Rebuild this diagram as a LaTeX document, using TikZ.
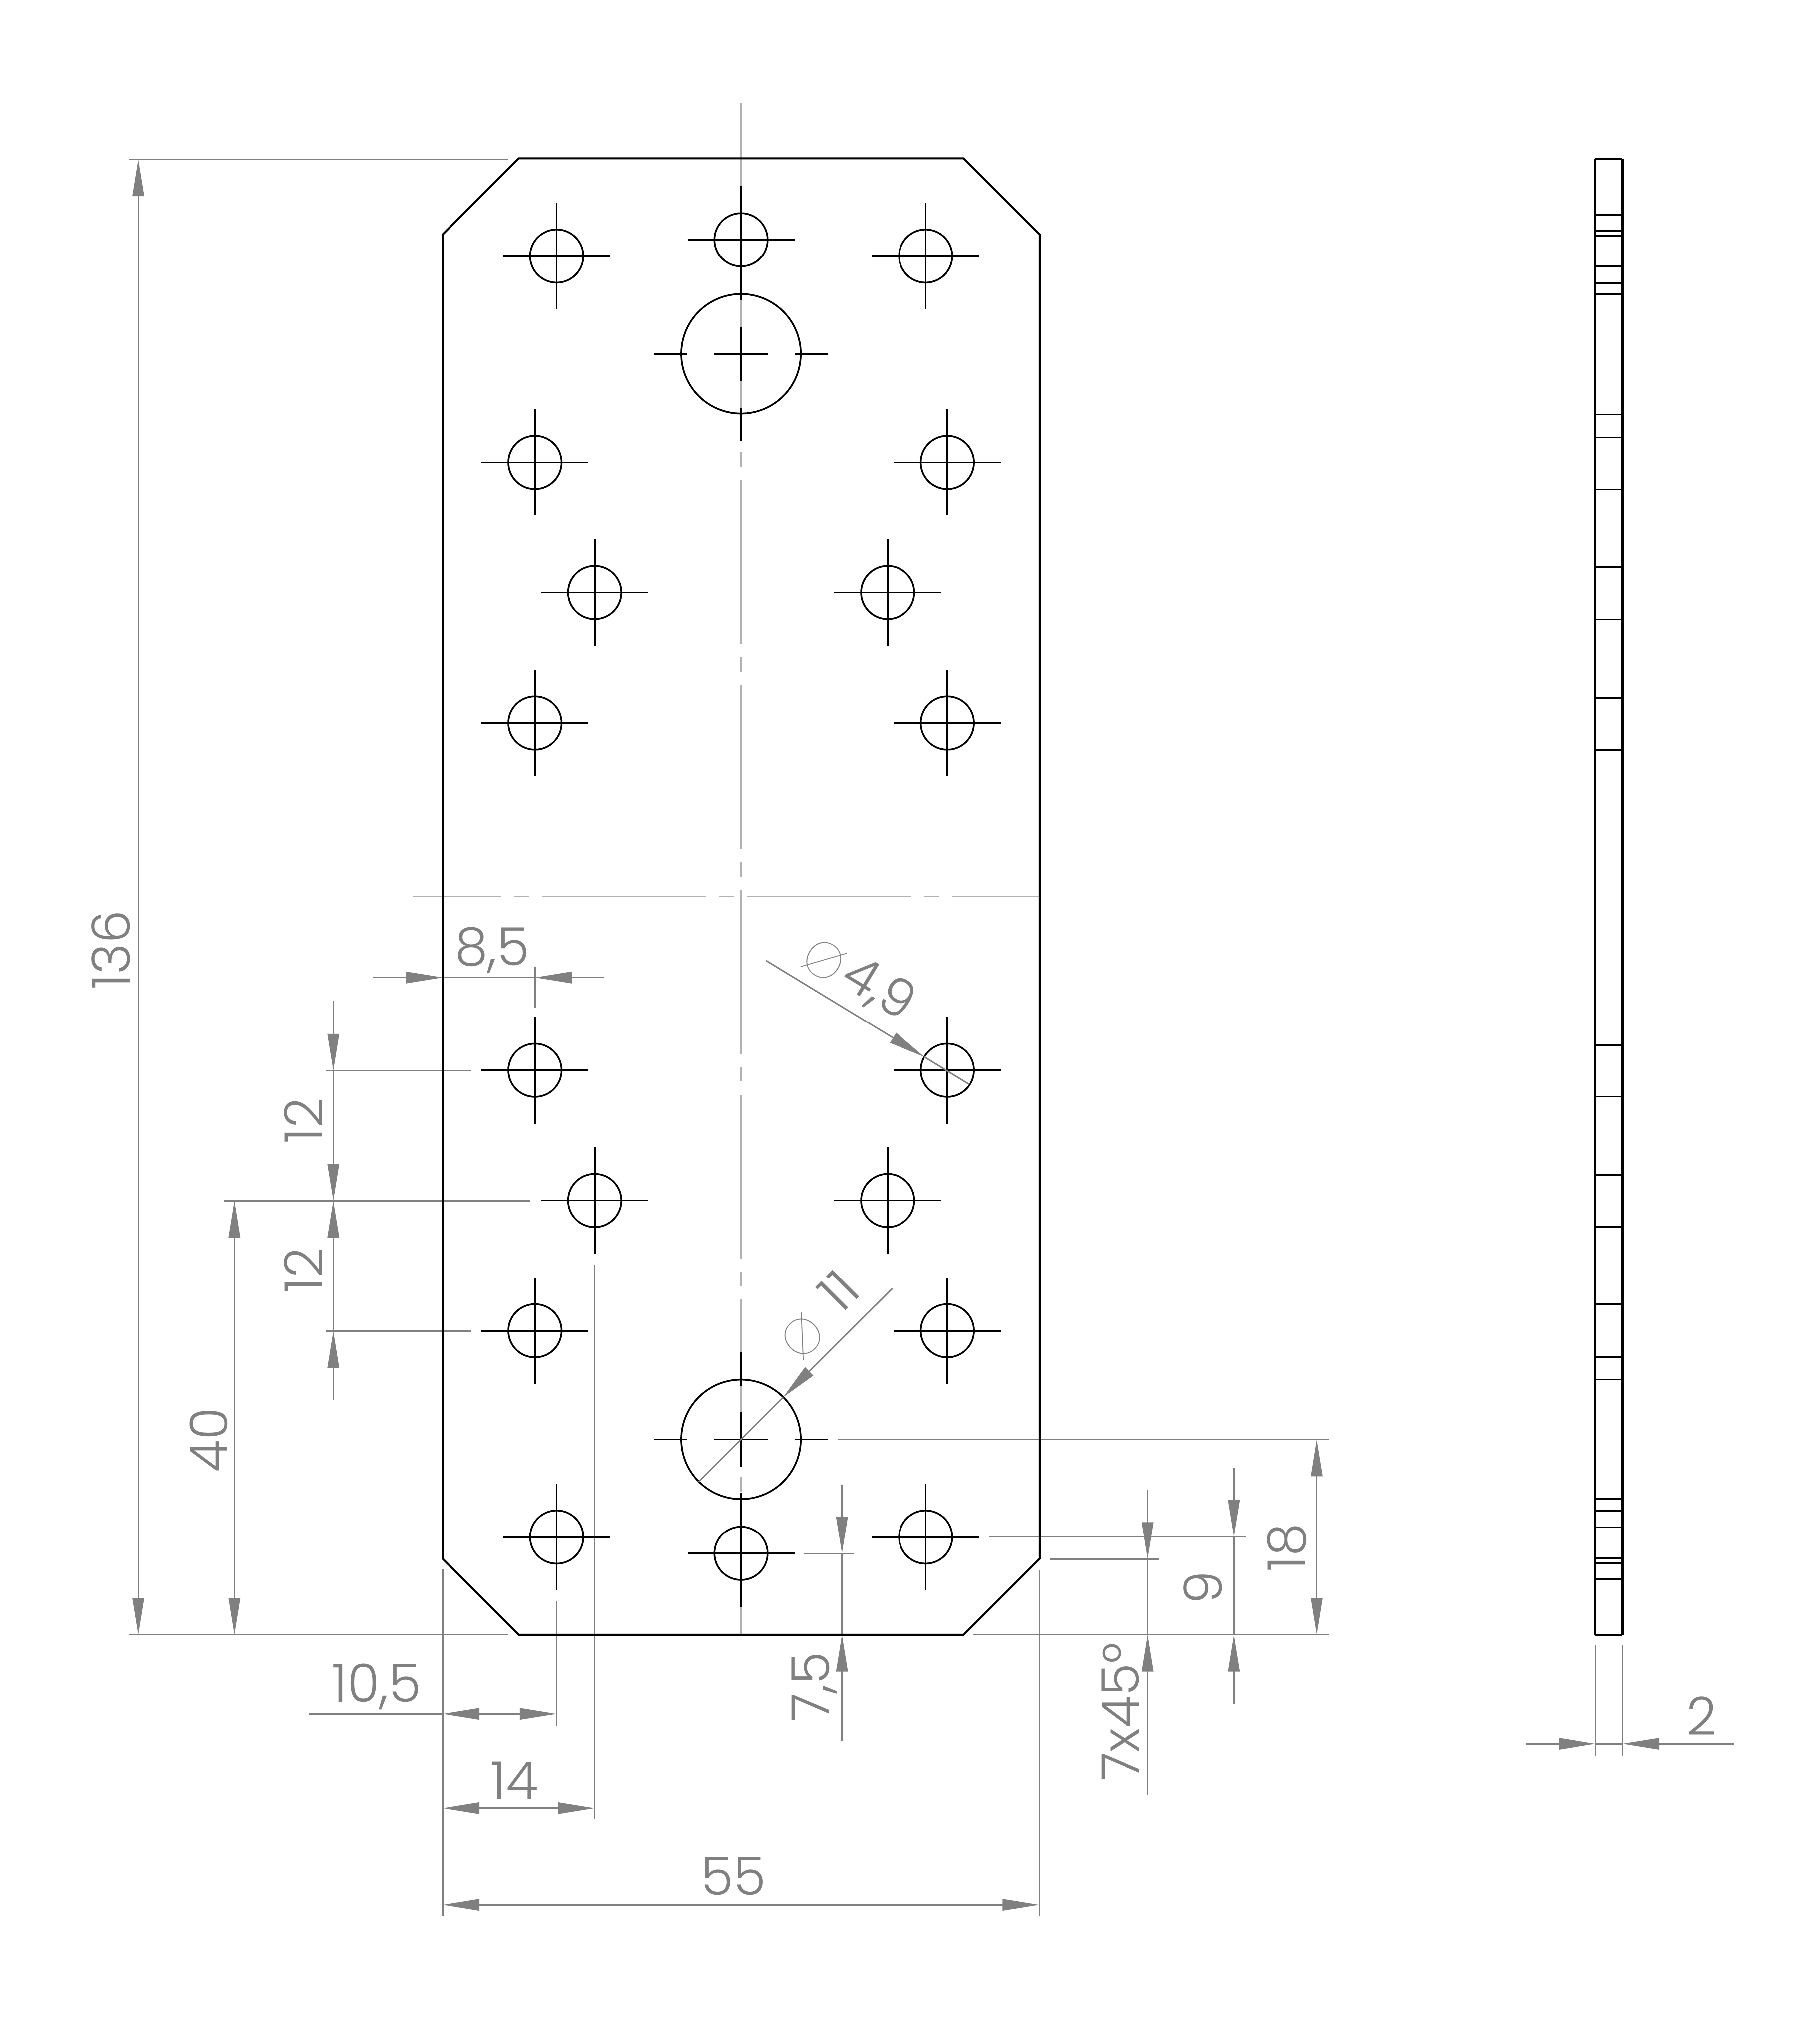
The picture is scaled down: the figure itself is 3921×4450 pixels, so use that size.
\documentclass[tikz,border=0pt]{standalone}
\usepackage{fontspec}
\usetikzlibrary{arrows.meta}
\newfontfamily\dimfont{Poppins Light}
\newfontfamily\symfont{Poppins Thin}
\definecolor{dimgray}{HTML}{808080}
\definecolor{cgray}{HTML}{B2B2B2}
\tikzset{
  objline/.style={draw=black,line width=4.4*0.01cm,line join=miter},
  crossline/.style={draw=black,line width=3.8*0.01cm},
  holeline/.style={draw=black,line width=3.8*0.01cm},
  sidethick/.style={draw=black,line width=5*0.01cm},
  sideline/.style={draw=black,line width=3.6*0.01cm},
  dimline/.style={draw=dimgray,line width=3.2*0.01cm},
  dimtip/.tip={Triangle[length=8mm,width=2.5mm]},
  both/.style={dimline,{dimtip}-{dimtip}},
  toend/.style={dimline,-{dimtip}},
  centerl/.style={draw=cgray,line width=3.6*0.01cm,dash pattern=on 3.57cm off 0.285cm on 0.32cm off 0.285cm},
  dimtext/.style={text=dimgray,inner sep=0pt,font=\dimfont\fontsize{32.5}{33}\selectfont},
}
\newcommand{\diasym}[1]{\raisebox{-0.12cm}{\symfont\fontsize{31}{31}\selectfont Ø}\hspace*{#1}}
\newcommand{\smallhole}[2]{%
  \draw[crossline] (#1-4.92,#2) -- (#1+4.92,#2);
  \draw[crossline] (#1,#2-4.92) -- (#1,#2+4.92);
  \draw[holeline] (#1,#2) circle (2.45);
}
\newcommand{\bighole}[2]{%
  \draw[crossline] (#1-8.04,#2) -- (#1-4.95,#2) (#1-2.5,#2) -- (#1+2.5,#2) (#1+4.95,#2) -- (#1+8.04,#2);
  \draw[crossline] (#1,#2-8.04) -- (#1,#2-4.95) (#1,#2-2.5) -- (#1,#2+2.5) (#1,#2+4.95) -- (#1,#2+8.04);
  \draw[holeline] (#1,#2) circle (5.5);
}
\begin{document}
\begin{tikzpicture}[x=0.01cm,y=-0.01cm]
\useasboundingbox[fill=white] (0,0) rectangle (3921,4450);
% centre lines
\draw[centerl,dash phase=0.72cm] (1613.6,224) -- (1613.6,3559);
\draw[centerl,dash phase=1.65cm] (900,1952) -- (2263,1952);
% 136
\draw[dimline] (281,347) -- (1106,347);
\draw[dimline] (281,3559) -- (1107,3559);
\draw[both] (301,347) -- (301,3559);
\node[dimtext,rotate=90] (d136) at (241,2068) {136};
% 8,5
\draw[dimline] (1164.8,2104) -- (1164.8,2193);
\draw[toend] (813,2128) -- (964,2128);
\draw[toend] (1316,2128) -- (1164.8,2128);
\draw[dimline] (964,2128) -- (1164.8,2128);
\node[dimtext] (d85) at (1072,2068) {8,5};
% 12 12
\draw[dimline] (709,2331) -- (1026,2331);
\draw[dimline] (488,2614) -- (1155,2614);
\draw[dimline] (709,2898) -- (1027,2898);
\draw[toend] (726,2179) -- (726,2331);
\draw[toend] (726,2331) -- (726,2614);
\draw[toend] (726,2898) -- (726,2614);
\draw[toend] (726,3047) -- (726,2898);
\node[dimtext,rotate=90] (d12a) at (661,2440) {12};
\node[dimtext,rotate=90] (d12b) at (661,2766) {12};
% 40
\draw[both] (511,2614) -- (511,3559);
\node[dimtext,rotate=90] (d40) at (454,3135) {40};
% 10,5
\draw[dimline] (1212,3485) -- (1212,3757);
\draw[dimline] (672,3731) -- (964,3731);
\draw[both] (964,3731) -- (1212,3731);
\node[dimtext] (d105) at (820,3672) {10,5};
% 14
\draw[dimline] (1294.7,2754) -- (1294.7,3961);
\draw[both] (964,3937) -- (1294.7,3937);
\node[dimtext] (d14) at (1120,3876) {14};
% 55
\draw[dimline] (964,3417) -- (964,4172);
\draw[dimline] (2263,3418) -- (2263,4172);
\draw[both] (964,4147) -- (2263,4147);
\node[dimtext] (d55) at (1598,4085) {55};
% 7,5
\draw[dimline] (1751,3382) -- (1859,3382);
\draw[dimline] (1833.5,3382) -- (1833.5,3559);
\draw[toend] (1833.5,3232) -- (1833.5,3382);
\draw[toend] (1833.5,3790) -- (1833.5,3559);
\node[dimtext,rotate=90] (d75) at (1774,3672) {7,5};
% 9
\draw[dimline] (2153,3346) -- (2713,3346);
\draw[dimline] (2687,3346) -- (2687,3559);
\draw[toend] (2687,3196) -- (2687,3346);
\draw[toend] (2687,3710) -- (2687,3559);
\node[dimtext,rotate=90] (d9) at (2620,3457) {9};
% 18
\draw[dimline] (1825,3134) -- (2893,3134);
\draw[dimline] (2120,3559) -- (2893,3559);
\draw[both] (2867,3134) -- (2867,3559);
\node[dimtext,rotate=90] (d18) at (2802,3369) {18};
% 7x45
\draw[dimline] (2286,3394) -- (2524,3394);
\draw[dimline] (2499.5,3394) -- (2499.5,3559);
\draw[toend] (2499.5,3243) -- (2499.5,3394);
\draw[toend] (2499.5,3909) -- (2499.5,3559);
\node[dimtext,rotate=90] (d745) at (2440,3726) {7x45°};
% plate in millimetres
\begin{scope}[shift={(964,3559)},x=0.2362cm,y=0.2362cm]
  \draw[objline] (7,0) -- (48,0) -- (55,7) -- (55,129) -- (48,136) -- (7,136) -- (0,129) -- (0,7) -- cycle;
  \smallhole{10.5}{9}
  \smallhole{44.5}{9}
  \smallhole{27.5}{7.5}
  \bighole{27.5}{18}
  \smallhole{8.5}{28}
  \smallhole{46.5}{28}
  \smallhole{14}{40}
  \smallhole{41}{40}
  \smallhole{8.5}{52}
  \smallhole{46.5}{52}
  \smallhole{8.5}{84}
  \smallhole{46.5}{84}
  \smallhole{14}{96}
  \smallhole{41}{96}
  \smallhole{8.5}{108}
  \smallhole{46.5}{108}
  \bighole{27.5}{118}
  \smallhole{10.5}{127}
  \smallhole{44.5}{127}
  \smallhole{27.5}{128.5}
\end{scope}
% diameter 4,9
\draw[toend] (1668,2091) -- (2013,2301);
\draw[dimline] (2013,2301) -- (2111,2361);
\node[dimtext,rotate=-31.3] (d49) at (1871,2129) {\diasym{0.10cm}4,9};
% diameter 11
\draw[toend] (1943.5,2805) -- (1705.5,3042);
\draw[dimline] (1705.5,3042) -- (1521.6,3226);
\node[dimtext,rotate=45] (d11) at (1783,2863) {\diasym{0.49cm}11};
% side view
\draw[sideline] (3474.5,345.5) -- (3533.5,345.5);
\draw[sideline] (3474.5,3559) -- (3533.5,3559);
\foreach \p in {467,502.7,513.4,580,616,641,902,952,1065,1235,1349,1519,1632,2275,2387.5,2558,2670.5,2840,2954.5,3003.6,3262.5,3289,3325,3393,3403,3438}
  \draw[sideline] (3474.5,\p) -- (3533.5,\p);
\draw[sidethick] (3474.5,345) -- (3474.5,3559);
\draw[sidethick] (3533.5,345) -- (3533.5,3559);
% 2
\draw[dimline] (3474.5,3582) -- (3474.5,3822);
\draw[dimline] (3533.5,3582) -- (3533.5,3822);
\draw[dimline] (3474.5,3796) -- (3533.5,3796);
\draw[toend] (3323,3796) -- (3474.5,3796);
\draw[toend] (3776,3796) -- (3533.5,3796);
\node[dimtext] (d2) at (3705,3735) {2};
\end{tikzpicture}
\end{document}
